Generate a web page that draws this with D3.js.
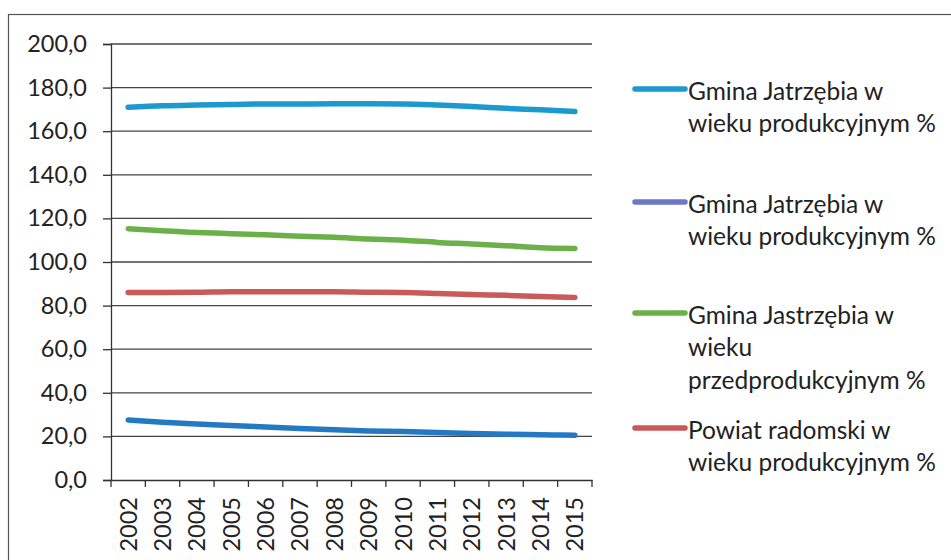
<!DOCTYPE html>
<html><head><meta charset="utf-8">
<script src="https://cdn.jsdelivr.net/npm/d3@7"></script>
<style>
body{margin:0;background:#fff;}
svg{display:block;font-family:Lato, "Open Sans", sans-serif;}
</style></head>
<body>
<svg id="c" width="951" height="560"></svg>
<script>
const years = ["2002","2003","2004","2005","2006","2007","2008","2009","2010","2011","2012","2013","2014","2015"];
const seriesNames = [
  ["Gmina Jatrzębia w", "wieku produkcyjnym %"],
  ["Gmina Jatrzębia w", "wieku produkcyjnym %"],
  ["Gmina Jastrzębia w", "wieku", "przedprodukcyjnym %"],
  ["Powiat radomski w", "wieku produkcyjnym %"]
];
const topSeries   = [171.0,171.7,172.0,172.2,172.5,172.5,172.6,172.6,172.5,172.0,171.3,170.5,169.8,169.0];
const lowSeries   = [27.5,26.5,25.7,25.0,24.3,23.6,23.0,22.5,22.2,21.8,21.3,21.0,20.8,20.5];
const greenSeries = [115.3,114.3,113.5,113.0,112.5,111.8,111.3,110.5,110.0,109.0,108.3,107.5,106.5,106.2];
const redSeries   = [86.0,86.0,86.1,86.3,86.3,86.3,86.3,86.1,86.0,85.6,85.1,84.7,84.2,83.7];
const yTicks = [0,20,40,60,80,100,120,140,160,180,200];

const lineColors = ["#1c9ad0","#2479c4","#6cb04a","#c85a5a"];
const legendColors = ["#1c9ad0","#6c78c4","#6cb04a","#c85a5a"];
const data = [topSeries, lowSeries, greenSeries, redSeries];

const svg = d3.select("#c");
svg.append("rect").attr("x",8.5).attr("y",14.5).attr("width",960).attr("height",600)
  .attr("fill","none").attr("stroke","#555").attr("stroke-width",1.2);

const pL = 111, pR = 592, pT = 44, pB = 480;
const x = d3.scaleBand().domain(years).range([pL,pR]);
const y = d3.scaleLinear().domain([0,200]).range([pB,pT]);
const fmt = d => d3.format(".1f")(d).replace(".", ",");

svg.append("g").selectAll("line").data(yTicks.filter(d=>d>0)).join("line")
  .attr("x1",pL).attr("x2",pR).attr("y1",d=>y(d)).attr("y2",d=>y(d))
  .attr("stroke","#444").attr("stroke-width",1.3);

const ya = svg.append("g").attr("transform",`translate(${pL},0)`)
  .call(d3.axisLeft(y).tickValues(yTicks).tickFormat(fmt).tickSize(8).tickPadding(16));
ya.select(".domain").attr("stroke","#333").attr("stroke-width",1.3);
ya.selectAll(".tick line").attr("stroke","#333").attr("stroke-width",1.3);
ya.selectAll("text").attr("font-size",23.5).attr("fill","#222").attr("font-family","Lato");

const xa = svg.append("g").attr("transform",`translate(0,${pB})`)
  .call(d3.axisBottom(x).tickSize(0).tickPadding(0));
xa.select(".domain").attr("stroke","#333").attr("stroke-width",1.3);
xa.selectAll(".tick text").attr("font-size",23.5).attr("fill","#222").attr("font-family","Lato")
  .attr("text-anchor","end").attr("transform","translate(0,17) rotate(-90)")
  .attr("dy","0.36em").attr("x",0).attr("y",0);
const bounds = years.map(d=>x(d)).concat([pR]);
svg.append("g").selectAll("line").data(bounds).join("line")
  .attr("x1",d=>d).attr("x2",d=>d).attr("y1",pB).attr("y2",pB+7)
  .attr("stroke","#333").attr("stroke-width",1.3);

const line = d3.line().x((d,i)=>x(years[i])+x.bandwidth()/2).y(d=>y(d)).curve(d3.curveMonotoneX);
svg.append("g").selectAll("path").data(data).join("path")
  .attr("d",line).attr("fill","none")
  .attr("stroke",(d,i)=>lineColors[i]).attr("stroke-width",5.5).attr("stroke-linecap","round");

const legY = [89, 202, 313, 428];
const lg = svg.append("g");
seriesNames.forEach((lines,i)=>{
  lg.append("line").attr("x1",635).attr("x2",685).attr("y1",legY[i]).attr("y2",legY[i])
    .attr("stroke",legendColors[i]).attr("stroke-width",5.5).attr("stroke-linecap","round");
  lines.forEach((t,j)=>{
    lg.append("text").attr("x",688).attr("y",legY[i] + 2 + j*32.5).attr("dy","0.35em")
      .attr("font-size",24.5).attr("fill","#222").text(t);
  });
});
</script>
</body></html>
